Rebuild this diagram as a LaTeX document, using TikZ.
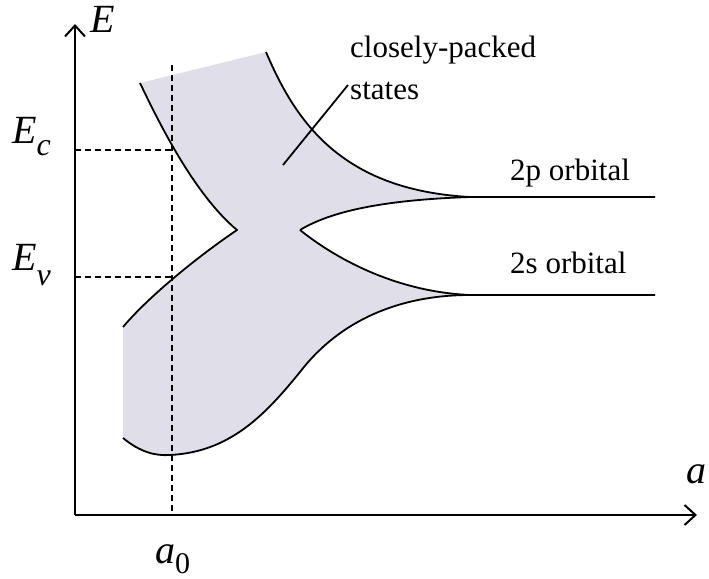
\documentclass[tikz,border=0pt]{standalone}
\usepackage{fontspec}
\setmainfont{Liberation Serif}
\usetikzlibrary{arrows.meta}

\tikzset{
  band/.style={line width=1.8pt,line join=round},
  guide/.style={dashed,line width=1.8pt,dash pattern=on 6pt off 4pt},
  axis/.style={line width=2.2pt,-{Straight Barb[length=11pt,width=20pt,line width=2pt]}},
  lbl/.style={anchor=base west,inner sep=0pt,font=\fontsize{31}{36}\selectfont},
  sym/.style={anchor=base west,inner sep=0pt,font=\fontsize{40}{46}\selectfont\itshape}
}
\definecolor{bandfill}{RGB}{224,223,233}

\begin{document}
\begin{tikzpicture}[x=1pt,y=-1pt]
\useasboundingbox (0,0) rectangle (709,578);
\coordinate (O) at (75,515);
\coordinate (ytip) at (75,24);
\coordinate (xtip) at (697,515);
\coordinate (top0) at (172,65);
\coordinate (bot0) at (172,515);
\coordinate (ec) at (75,150);
\coordinate (ecx) at (172,150);
\coordinate (ev) at (75,277);
\coordinate (evx) at (172,277);
\coordinate (p2) at (470,197);
\coordinate (p2e) at (655,197);
\coordinate (s2) at (470,295);
\coordinate (s2e) at (655,295);
\coordinate (cl) at (237,230);
\coordinate (cr) at (300,230);
\coordinate (ptrA) at (283,165);
\coordinate (ptrB) at (348,85);

\fill[bandfill] (140,83) -- (266,52) .. controls (295,120) and (340,190) .. (p2)
  .. controls (380,200) and (330,212) .. (cr)
  .. controls (340,262) and (400,292) .. (s2)
  .. controls (400,295) and (340,320) .. (300,372)
  .. controls (265,415) and (230,452) .. (170,455)
  .. controls (155,456) and (140,452) .. (123,438) -- (123,327)
  .. controls (150,295) and (200,255) .. (cl)
  .. controls (195,195) and (160,125) .. cycle;

\draw[guide] (top0) -- (bot0);
\draw[guide] (ec) -- (ecx);
\draw[guide] (ev) -- (evx);

\draw[band] (140,83) .. controls (160,125) and (195,195) .. (cl)
  .. controls (200,255) and (150,295) .. (123,327);
\draw[band] (123,438) .. controls (140,452) and (155,456) .. (170,455)
  .. controls (230,452) and (265,415) .. (300,372)
  .. controls (340,320) and (400,295) .. (s2) -- (s2e);
\draw[band] (cr) .. controls (340,262) and (400,292) .. (s2);
\draw[band] (cr) .. controls (330,212) and (380,200) .. (p2) -- (p2e);
\draw[band] (266,52) .. controls (295,120) and (340,190) .. (p2);
\draw[band] (ptrA) -- (ptrB);

\draw[axis] (O) -- (ytip);
\draw[axis] (O) -- (xtip);

\node[sym] (lE) at (90,33) {E};
\node[sym] (lEc) at (12,143) {E\raisebox{-12pt}{\fontsize{32}{36}\selectfont c}};
\node[sym] (lEv) at (12,270) {E\raisebox{-15pt}{\fontsize{32}{36}\selectfont v}};
\node[sym] (la) at (686,483) {a};
\node[sym] (la0) at (155,563) {a\raisebox{-10pt}{\fontsize{30}{36}\selectfont\upshape 0}};
\node[lbl] (lcp) at (350,58) {closely-packed};
\node[lbl] (lst) at (350,99) {states};
\node[lbl] (l2p) at (510,180) {2p orbital};
\node[lbl] (l2s) at (510,273) {2s orbital};
\end{tikzpicture}
\end{document}
